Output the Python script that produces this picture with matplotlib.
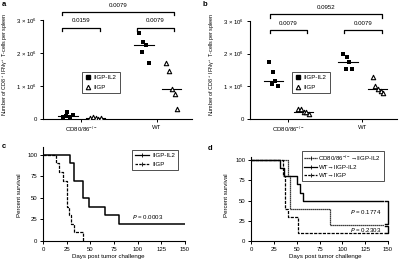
import matplotlib
matplotlib.use("Agg")
import matplotlib.pyplot as plt
from matplotlib.lines import Line2D

plt.rcParams['font.family'] = ['Liberation Sans', 'DejaVu Sans']
plt.rcParams['mathtext.default'] = 'regular'
plt.rcParams['font.size'] = 4.3

# ---------------------------------------------------------
# data
# ---------------------------------------------------------
groups = ["CD80/86$^{-/-}$", "WT"]
series = ["IIGP-IL2", "IIGP"]

# panel a: CD8+ IFNg+ T cells per spleen (x 10^6)
a_cd_il2 = [0.06, 0.22, 0.05, 0.08, 0.12]
a_cd_iigp = [0.03, 0.05, 0.02, 0.01, 0.02]
a_wt_il2 = [2.6, 2.34, 2.25, 2.02, 1.71]
a_wt_iigp = [1.71, 1.46, 0.9, 0.76, 0.29]
a_p = ["0.0159", "0.0079", "0.0079"]

# panel b
b_cd_il2 = [1.76, 1.45, 1.15, 1.08, 1.0]
b_cd_iigp = [0.32, 0.3, 0.22, 0.2, 0.15]
b_wt_il2 = [1.99, 1.89, 1.74, 1.54, 1.54]
b_wt_iigp = [1.3, 1.01, 0.93, 0.86, 0.8]
b_p = ["0.0079", "0.0079", "0.0952"]

y_ticks = [0, 1, 2, 3]
y_ticklabels = ["0", "1 × 10$^6$", "2 × 10$^6$", "3 × 10$^6$"]

# panel c: survival
c_il2_t = [0, 29, 33, 42, 49, 66, 80, 150]
c_il2_s = [100, 90, 70, 50, 40, 30, 20, 20]
c_iigp_t = [0, 14, 17, 21, 25, 27, 30, 33, 42]
c_iigp_s = [100, 90, 80, 70, 40, 30, 20, 10, 0]
c_p = "0.0003"

# panel d: survival
d_cd_t = [0, 40, 43, 86, 146]
d_cd_s = [100, 80, 40, 20, 20]
d_wt_il2_t = [0, 32, 36, 50, 54, 57, 145]
d_wt_il2_s = [100, 90, 80, 70, 60, 50, 50]
d_wt_iigp_t = [0, 35, 37, 40, 52, 146]
d_wt_iigp_s = [100, 80, 40, 30, 10, 10]
d_labels = ["CD80/86$^{-/-}$→IIGP-IL2", "WT→IIGP-IL2", "WT→IIGP"]
d_p = ["0.1774", "0.2303"]

surv_ticks = [0, 25, 50, 75, 100]
day_ticks = [0, 25, 50, 75, 100, 125, 150]

# jitter of the scatter points (category units)
jit_sq = [-0.06, 0.0, 0.03, -0.02, 0.07]
jit_tri = [-0.06, -0.02, 0.02, 0.05, 0.08]

W, H = 401, 265
fig = plt.figure(figsize=(W / 100, H / 100), dpi=100)


def box(x0, x1, ytop, ybot):
    return [x0 / W, 1 - ybot / H, (x1 - x0) / W, (ybot - ytop) / H]


def style(ax):
    for s in ("top", "right"):
        ax.spines[s].set_visible(False)
    for s in ("left", "bottom"):
        ax.spines[s].set_linewidth(0.8)
    ax.tick_params(width=0.7, length=2.5, pad=1.5, labelsize=4.3)


def bracket(ax, x0, x1, y, drop, label, ty):
    ax.plot([x0, x0, x1, x1], [y - drop, y, y, y - drop], color="k",
            lw=0.9, clip_on=False)
    ax.text((x0 + x1) / 2, ty, label, ha="center", va="center",
            fontsize=4.4)


def scatter_panel(ax, cd_il2, cd_iigp, wt_il2, wt_iigp, off, brackets):
    style(ax)
    sets = [(0, cd_il2, cd_iigp), (1, wt_il2, wt_iigp)]
    for gx, il2, iigp in sets:
        xs = [gx - off + j for j in jit_sq]
        xt = [gx + off + j for j in jit_tri]
        ax.scatter(xs, il2, marker="s", s=9, color="k", zorder=3, lw=0)
        ax.scatter(xt, iigp, marker="^", s=10, facecolor="white",
                   edgecolor="k", lw=0.8, zorder=3)
        m1 = sorted(il2)[2]
        m2 = sorted(iigp)[2]
        ax.plot([gx - off - 0.12, gx - off + 0.14], [m1, m1], color="k", lw=0.8)
        ax.plot([gx + off - 0.12, gx + off + 0.14], [m2, m2], color="k", lw=0.8)
    ax.set_ylim(0, 3)
    ax.set_yticks(y_ticks)
    ax.set_yticklabels(y_ticklabels)
    ax.set_xticks([0, 1])
    ax.set_xticklabels(groups)
    ax.set_ylabel("Number of CD8$^+$ IFNγ$^+$ T-cells per spleen", fontsize=3.9)
    for b in brackets:
        bracket(ax, *b)
    h1 = Line2D([], [], marker="s", ls="none", color="k", ms=3)
    h2 = Line2D([], [], marker="^", ls="none", mfc="white", mec="k", ms=3.2, mew=0.8)
    return [h1, h2]


# ---------------------------------------------------------
# a
# ---------------------------------------------------------
ax = fig.add_axes(box(43, 192, 20, 119))
hs = scatter_panel(ax, a_cd_il2, a_cd_iigp, a_wt_il2, a_wt_iigp, 0.18,
                   [(-0.25, 0.25, 2.77, 0.1, a_p[0], 2.98),
                    (0.74, 1.22, 2.77, 0.1, a_p[1], 2.98),
                    (-0.25, 1.22, 3.24, 0.1, a_p[2], 3.45)])
ax.set_xlim(-0.5, 1.46)
ax.yaxis.set_label_coords(-0.22, 0.555)
leg = ax.legend(hs, series, loc="upper left", bbox_to_anchor=(82 / W, 1 - 72 / H),
                bbox_transform=fig.transFigure, frameon=True, fancybox=False,
                edgecolor="k", fontsize=4.4, handlelength=0.8, handletextpad=0.6,
                borderpad=0.5, labelspacing=0.7, borderaxespad=0)
leg.get_frame().set_linewidth(0.6)

# ---------------------------------------------------------
# b
# ---------------------------------------------------------
ax = fig.add_axes(box(250, 397, 21, 119))
hs = scatter_panel(ax, b_cd_il2, b_cd_iigp, b_wt_il2, b_wt_iigp, 0.2,
                   [(-0.24, 0.26, 2.72, 0.1, b_p[0], 2.93),
                    (0.76, 1.27, 2.72, 0.1, b_p[1], 2.93),
                    (-0.24, 1.27, 3.2, 0.1, b_p[2], 3.42)])
ax.set_xlim(-0.51, 1.47)
ax.yaxis.set_label_coords(-0.225, 0.555)
leg = ax.legend(hs, series, loc="upper left", bbox_to_anchor=(292 / W, 1 - 72 / H),
                bbox_transform=fig.transFigure, frameon=True, fancybox=False,
                edgecolor="k", fontsize=4.4, handlelength=0.8, handletextpad=0.6,
                borderpad=0.5, labelspacing=0.7, borderaxespad=0)
leg.get_frame().set_linewidth(0.6)

# ---------------------------------------------------------
# c
# ---------------------------------------------------------
ax = fig.add_axes(box(43, 185, 147, 241))
style(ax)
ax.step(c_il2_t, c_il2_s, where="post", color="k", lw=1.1)
ax.step(c_iigp_t, c_iigp_s, where="post", color="k", lw=0.9, ls=(0, (2.5, 1)))
ax.set_xlim(0, 150)
ax.set_ylim(0, 109)
ax.set_xticks(day_ticks)
ax.set_yticks(surv_ticks)
ax.set_xlabel("Days post tumor challenge", fontsize=4.4)
ax.set_ylabel("Percent survival", fontsize=4.4)
ax.xaxis.set_label_coords(0.46, -0.14)
ax.yaxis.set_label_coords(-0.15, 0.49)
ax.text(111, 28, "$\\it{P}$ = " + c_p, ha="center", va="center", fontsize=4.4)
hc = [Line2D([], [], color="k", lw=0.9, marker="|", ms=2.5, mew=0.6),
      Line2D([], [], color="k", lw=0.9, ls=(0, (2, 1)), marker="|", ms=2.5, mew=0.6)]
leg = ax.legend(hc, series, loc="upper left", bbox_to_anchor=(132 / W, 1 - 150 / H),
                bbox_transform=fig.transFigure, frameon=True, fancybox=False,
                edgecolor="k", fontsize=4.4, handlelength=2.2, handletextpad=0.6,
                borderpad=0.5, labelspacing=0.5, borderaxespad=0)
leg.get_frame().set_linewidth(0.6)

# ---------------------------------------------------------
# d
# ---------------------------------------------------------
ax = fig.add_axes(box(251, 388, 157, 241))
style(ax)
ax.step(d_cd_t, d_cd_s, where="post", color="k", lw=0.9, ls=(0, (1, 0.6)))
ax.step(d_wt_il2_t, d_wt_il2_s, where="post", color="k", lw=1.0)
ax.step(d_wt_iigp_t, d_wt_iigp_s, where="post", color="k", lw=0.9, ls=(0, (2.5, 1)))
ax.set_xlim(0, 150)
ax.set_ylim(0, 104)
ax.set_xticks(day_ticks)
ax.set_yticks(surv_ticks)
ax.set_xlabel("Days post tumor challenge", fontsize=4.4)
ax.set_ylabel("Percent survival", fontsize=4.4)
ax.xaxis.set_label_coords(0.54, -0.15)
ax.yaxis.set_label_coords(-0.16, 0.54)
ax.text(125, 36, "$\\it{P}$ = " + d_p[0], ha="center", va="center", fontsize=4.4)
ax.text(125, 14, "$\\it{P}$ = " + d_p[1], ha="center", va="center", fontsize=4.4)
for y0, y1 in ((50, 21), (19, 10)):
    ax.plot([147, 150, 150, 147], [y0, y0, y1, y1], color="k", lw=1.0, clip_on=False)
hd = [Line2D([], [], color="k", lw=0.9, ls=(0, (1, 0.6)), marker="|", ms=2.5, mew=0.6),
      Line2D([], [], color="k", lw=0.9, marker="|", ms=2.5, mew=0.6),
      Line2D([], [], color="k", lw=0.9, ls=(0, (2, 1)), marker="|", ms=2.5, mew=0.6)]
leg = ax.legend(hd, d_labels, loc="upper left", bbox_to_anchor=(302 / W, 1 - 151 / H),
                bbox_transform=fig.transFigure, frameon=True, fancybox=False,
                edgecolor="k", fontsize=4.4, handlelength=2.0, handletextpad=0.3,
                borderpad=0.4, labelspacing=0.4, borderaxespad=0)
leg.get_frame().set_linewidth(0.6)

for lbl, x, y in (("a", 2, 5), ("b", 203, 5), ("c", 2, 146), ("d", 208, 148)):
    fig.text(x / W, 1 - y / H, lbl, fontsize=5.5, fontweight="bold",
             ha="left", va="center")

fig.savefig("out.png", dpi=100)
